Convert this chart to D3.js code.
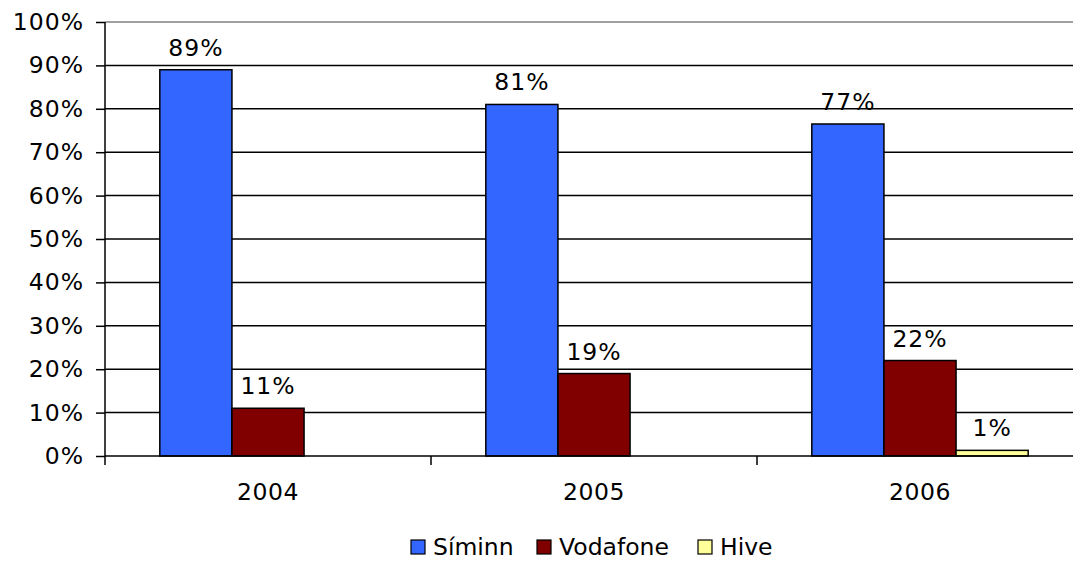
<!DOCTYPE html>
<html lang="en">
<head>
    <meta charset="UTF-8">
    <title>Síminn / Vodafone / Hive</title>
    <script src="https://d3js.org/d3.v7.min.js"></script>
    <style>
        body { margin: 0; background: #fff; }
        svg { display: block; font-family: "DejaVu Sans", Verdana, sans-serif; }
    </style>
</head>
<body>
    <script>
        // Gögn
        const years = ["2004", "2005", "2006"];
        const seriesNames = ["Síminn", "Vodafone", "Hive"];
        const siminn = [89, 81, 76.5];
        const vodafone = [11, 19, 22];
        const hive = [0, 0, 1.3];
        const labelsSiminn = ["89%", "81%", "77%"];
        const labelsVodafone = ["11%", "19%", "22%"];
        const labelsHive = ["", "", "1%"];
        const colors = ["#3366ff", "#800000", "#ffff99"];
        const yTicks = [0, 10, 20, 30, 40, 50, 60, 70, 80, 90, 100];

        const width = 1073, height = 561;
        const plotLeft = 105, plotTop = 22, plotBottom = 456;
        const catW = 326;
        const fs = 23.5;

        const svg = d3.select("body").append("svg")
            .attr("width", width)
            .attr("height", height);

        const x = d3.scaleBand().domain(years).range([plotLeft, plotLeft + catW * 3]);
        const inner = d3.scaleBand().domain(seriesNames)
            .range([0, catW]).paddingOuter(0.76).paddingInner(0);
        const y = d3.scaleLinear().domain([0, 100]).range([plotBottom, plotTop]);

        // gridlines
        svg.append("g").selectAll("line")
            .data(yTicks.filter(d => d > 0))
            .enter().append("line")
            .attr("x1", plotLeft).attr("x2", plotLeft + catW * 3)
            .attr("y1", d => y(d)).attr("y2", d => y(d))
            .attr("stroke", d => d === 100 ? "#808080" : "#000")
            .attr("stroke-width", 1.5);

        // y axis
        const yAxis = svg.append("g")
            .attr("transform", `translate(${plotLeft},0)`)
            .call(d3.axisLeft(y).tickValues(yTicks).tickFormat(d => d + "%").tickSize(9).tickPadding(12));
        yAxis.select(".domain").attr("stroke-width", 1.5).attr("d", `M0,${plotTop}V${plotBottom}`);
        yAxis.selectAll(".tick line").attr("stroke-width", 1.5);
        yAxis.selectAll("text").attr("font-size", fs).attr("fill", "#000")
            .attr("letter-spacing", 1)
            .attr("font-family", "DejaVu Sans, Verdana, sans-serif");

        const rows = [siminn, vodafone, hive];
        const labels = [labelsSiminn, labelsVodafone, labelsHive];
        const data = [];
        years.forEach((yr, i) => {
            seriesNames.forEach((s, j) => {
                data.push({ year: yr, series: s, value: rows[j][i], label: labels[j][i], color: colors[j] });
            });
        });

        const bars = data.filter(d => d.value > 0);
        svg.append("g").selectAll("rect")
            .data(bars)
            .enter().append("rect")
            .attr("x", d => x(d.year) + inner(d.series))
            .attr("y", d => y(d.value))
            .attr("width", inner.bandwidth())
            .attr("height", d => plotBottom - y(d.value))
            .attr("fill", d => d.color)
            .attr("stroke", "#000")
            .attr("stroke-width", 1.5);

        svg.append("g").selectAll("text")
            .data(bars)
            .enter().append("text")
            .attr("x", d => x(d.year) + inner(d.series) + inner.bandwidth() / 2)
            .attr("y", d => y(d.value) - 14)
            .attr("text-anchor", "middle")
            .attr("font-size", fs)
            .attr("letter-spacing", 1)
            .text(d => d.label);

        // x axis
        svg.append("line")
            .attr("x1", plotLeft).attr("x2", plotLeft + catW * 3)
            .attr("y1", plotBottom).attr("y2", plotBottom)
            .attr("stroke", "#000").attr("stroke-width", 1.5);
        svg.append("g").selectAll("line")
            .data(d3.range(0, 4))
            .enter().append("line")
            .attr("x1", i => plotLeft + i * catW).attr("x2", i => plotLeft + i * catW)
            .attr("y1", plotBottom).attr("y2", plotBottom + 9)
            .attr("stroke", "#000").attr("stroke-width", 1.5);
        svg.append("g").selectAll("text")
            .data(years)
            .enter().append("text")
            .attr("x", d => x(d) + x.bandwidth() / 2)
            .attr("y", 500)
            .attr("text-anchor", "middle")
            .attr("font-size", fs)
            .attr("letter-spacing", 0.5)
            .text(d => d);

        // legend
        const legendX = [411, 537, 698];
        const lg = svg.append("g").selectAll("g")
            .data(seriesNames)
            .enter().append("g")
            .attr("transform", (d, i) => `translate(${legendX[i]},540)`);
        lg.append("rect")
            .attr("width", 14).attr("height", 14)
            .attr("fill", (d, i) => colors[i])
            .attr("stroke", "#000").attr("stroke-width", 1.2);
        lg.append("text")
            .attr("x", 22).attr("y", 15)
            .attr("font-size", fs)
            .text(d => d);
    </script>
</body>
</html>
